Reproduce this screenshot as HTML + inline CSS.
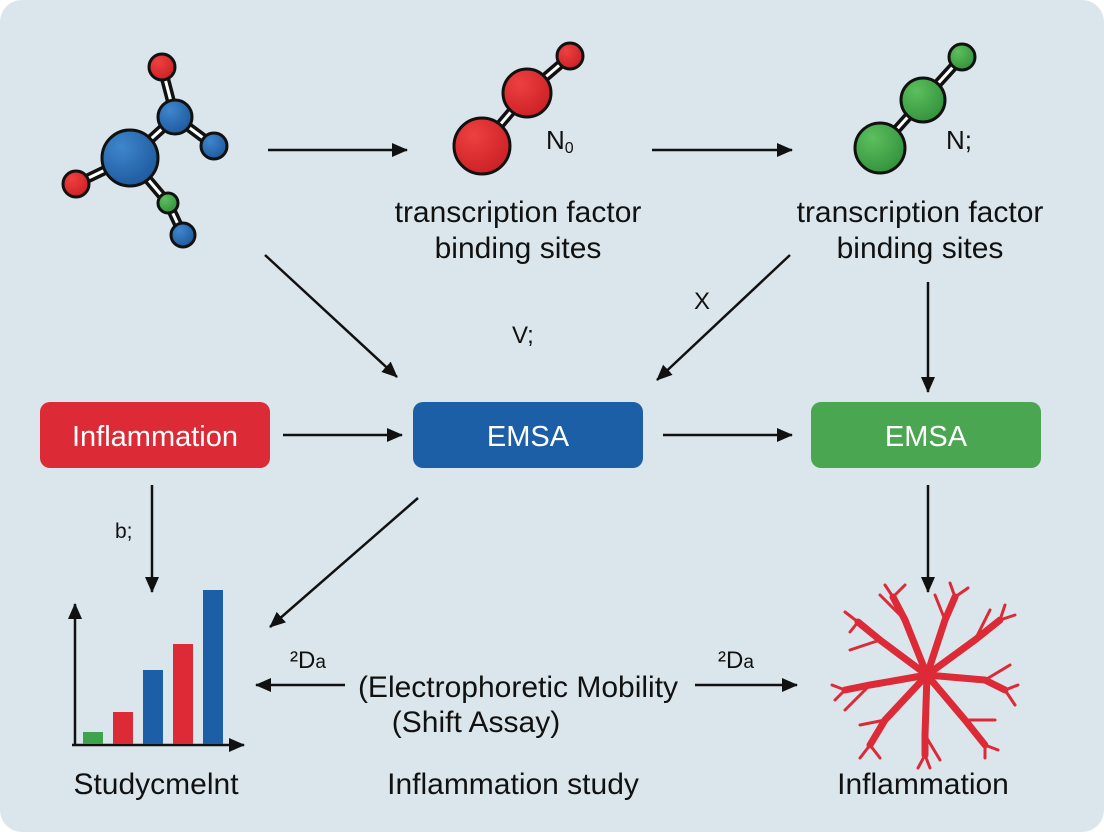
<!DOCTYPE html>
<html><head><style>
html,body{margin:0;padding:0}
body{width:1104px;height:832px;background:#fff;overflow:hidden;font-family:"Liberation Sans","DejaVu Sans",sans-serif}
</style></head><body>
<svg width="1104" height="832" viewBox="0 0 1104 832" xmlns="http://www.w3.org/2000/svg">
<defs>
<marker id="ah" markerWidth="16" markerHeight="14" refX="15" refY="7" orient="auto" markerUnits="userSpaceOnUse" viewBox="0 0 16 14">
<path d="M0,0 L16,7 L0,14z" fill="#111"/></marker>
<radialGradient id="gb" cx="0.35" cy="0.3" r="0.8"><stop offset="0" stop-color="#3f86cc"/><stop offset="1" stop-color="#1b569a"/></radialGradient>
<radialGradient id="gr" cx="0.35" cy="0.3" r="0.8"><stop offset="0" stop-color="#ee4040"/><stop offset="1" stop-color="#c81e24"/></radialGradient>
<radialGradient id="gg" cx="0.35" cy="0.3" r="0.8"><stop offset="0" stop-color="#5cbf5c"/><stop offset="1" stop-color="#2f8f3a"/></radialGradient>
</defs>
<rect x="0" y="0" width="1104" height="832" rx="22" fill="#dbe6ec"/>
<g stroke="#111" stroke-width="10" stroke-linecap="round">
<line x1="130" y1="158" x2="175" y2="117"/><line x1="175" y1="117" x2="162" y2="67"/><line x1="175" y1="117" x2="214" y2="146"/><line x1="130" y1="158" x2="76" y2="184"/><line x1="130" y1="158" x2="168" y2="203"/><line x1="168" y1="203" x2="183" y2="235"/>
<line x1="482" y1="146" x2="527" y2="93"/><line x1="527" y1="93" x2="570" y2="56"/>
<line x1="880" y1="148" x2="923" y2="100"/><line x1="923" y1="100" x2="962" y2="57"/>
</g>
<g stroke="#fff" stroke-width="3">
<line x1="130" y1="158" x2="175" y2="117"/><line x1="175" y1="117" x2="162" y2="67"/><line x1="175" y1="117" x2="214" y2="146"/><line x1="130" y1="158" x2="76" y2="184"/><line x1="130" y1="158" x2="168" y2="203"/><line x1="168" y1="203" x2="183" y2="235"/>
<line x1="482" y1="146" x2="527" y2="93"/><line x1="527" y1="93" x2="570" y2="56"/>
<line x1="880" y1="148" x2="923" y2="100"/><line x1="923" y1="100" x2="962" y2="57"/>
</g>
<g stroke="#111" stroke-width="3">
<circle cx="162" cy="67" r="13" fill="url(#gr)"/>
<circle cx="175" cy="117" r="17" fill="url(#gb)"/>
<circle cx="214" cy="146" r="13" fill="url(#gb)"/>
<circle cx="130" cy="158" r="28" fill="url(#gb)"/>
<circle cx="76" cy="184" r="13" fill="url(#gr)"/>
<circle cx="168" cy="203" r="10" fill="url(#gg)"/>
<circle cx="183" cy="235" r="12" fill="url(#gb)"/>
<circle cx="570" cy="56" r="13" fill="url(#gr)"/>
<circle cx="527" cy="93" r="24" fill="url(#gr)"/>
<circle cx="482" cy="146" r="28" fill="url(#gr)"/>
<circle cx="962" cy="57" r="13" fill="url(#gg)"/>
<circle cx="923" cy="100" r="22" fill="url(#gg)"/>
<circle cx="880" cy="148" r="25" fill="url(#gg)"/>
</g>
<g font-size="26" fill="#111">
<text x="546" y="149">N<tspan font-size="16" dy="4">0</tspan></text>
<text x="946" y="149">N;</text>
</g>
<g font-size="30" fill="#111" text-anchor="middle">
<text x="518" y="222">transcription factor</text>
<text x="518" y="258">binding sites</text>
<text x="920" y="222">transcription factor</text>
<text x="920" y="258">binding sites</text>
<text x="518" y="697">(Electrophoretic Mobility</text>
<text x="476" y="732">(Shift Assay)</text>
<text x="156" y="794">Studycmelnt</text>
<text x="513" y="794">Inflammation study</text>
<text x="923" y="794">Inflammation</text>
</g>
<g font-size="24" fill="#111">
<text x="512" y="343">V;</text>
<text x="694" y="309">X</text>
<text x="115" y="538" font-size="21">b;</text>
<text x="290" y="668">²D<tspan font-size="19">a</tspan></text>
<text x="718" y="668">²D<tspan font-size="19">a</tspan></text>
</g>
<rect x="40" y="402" width="230" height="66" rx="10" fill="#dc2a36"/>
<rect x="413" y="402" width="230" height="66" rx="10" fill="#1d5fa6"/>
<rect x="811" y="402" width="230" height="66" rx="10" fill="#4aa650"/>
<g font-size="29" fill="#fff" text-anchor="middle">
<text x="155" y="446">Inflammation</text>
<text x="528" y="446">EMSA</text>
<text x="926" y="446">EMSA</text>
</g>
<g stroke="#111" stroke-width="2.5" marker-end="url(#ah)" fill="none">
<line x1="268" y1="150" x2="407" y2="150"/>
<line x1="652" y1="150" x2="792" y2="150"/>
<line x1="265" y1="255" x2="397" y2="377"/>
<line x1="790" y1="255" x2="657" y2="380"/>
<line x1="928" y1="282" x2="928" y2="392"/>
<line x1="283" y1="435" x2="402" y2="435"/>
<line x1="663" y1="435" x2="792" y2="435"/>
<line x1="152" y1="485" x2="152" y2="592"/>
<line x1="418" y1="498" x2="270" y2="627"/>
<line x1="928" y1="485" x2="928" y2="592"/>
<line x1="345" y1="685" x2="256" y2="685"/>
<line x1="695" y1="685" x2="797" y2="685"/>
<line x1="75" y1="745" x2="75" y2="604"/>
<line x1="72" y1="745" x2="244" y2="745"/>
</g>
<rect x="83" y="732" width="20" height="12" fill="#3fa34d"/>
<rect x="113" y="712" width="20" height="32" fill="#dc2a36"/>
<rect x="143" y="670" width="20" height="74" fill="#1d5fa6"/>
<rect x="173" y="644" width="20" height="100" fill="#dc2a36"/>
<rect x="203" y="590" width="20" height="154" fill="#1d5fa6"/>
<g stroke="#dc2a36" fill="none" stroke-linecap="round">
<g stroke-width="7">
<path d="M927,675 L905,620 L893,597"/><path d="M927,675 L945,620 L955,597"/>
<path d="M927,675 L975,640 L1000,620"/><path d="M927,675 L985,680 L1005,690"/>
<path d="M927,675 L965,720 L985,745"/><path d="M927,675 L925,735 L925,755"/>
<path d="M927,675 L885,720 L870,745"/><path d="M927,675 L870,685 L845,690"/>
<path d="M927,675 L880,640 L858,622"/>
</g>
<g stroke-width="3">
<path d="M905,620 L880,595"/><path d="M893,597 L885,585"/><path d="M893,597 L905,585"/>
<path d="M945,620 L935,595"/><path d="M955,597 L950,583"/><path d="M955,597 L968,588"/>
<path d="M975,640 L990,610"/><path d="M1000,620 L1005,605"/><path d="M1000,620 L1015,615"/>
<path d="M985,680 L1010,665"/><path d="M1005,690 L1018,685"/><path d="M1005,690 L1015,705"/>
<path d="M965,720 L995,720"/><path d="M985,745 L985,758"/><path d="M985,745 L998,750"/>
<path d="M925,735 L940,760"/><path d="M925,755 L918,768"/><path d="M925,755 L930,768"/>
<path d="M885,720 L860,725"/><path d="M870,745 L860,758"/><path d="M870,745 L880,758"/>
<path d="M870,685 L845,710"/><path d="M845,690 L832,685"/><path d="M845,690 L835,700"/>
<path d="M880,640 L850,650"/><path d="M858,622 L845,612"/><path d="M858,622 L850,632"/>
</g>
</g>
</svg>
</body></html>
